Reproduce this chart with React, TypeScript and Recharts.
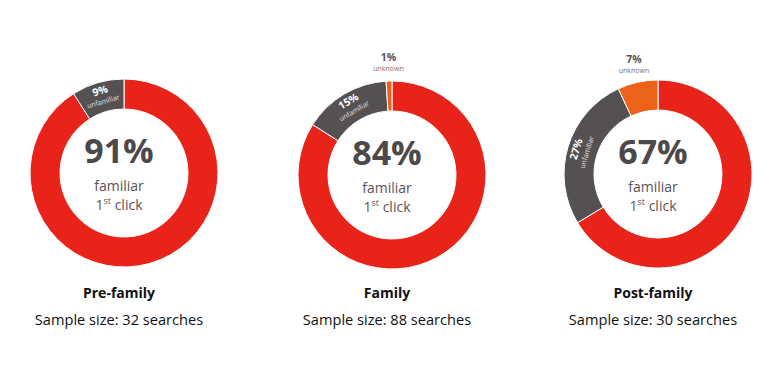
import React from 'react';
import { PieChart, Pie, Cell } from 'recharts';

const groups = ['Pre-family', 'Family', 'Post-family'];
const sampleSizes = [32, 88, 30];
const familiar = [91, 84, 67];
const unfamiliar = [9, 15, 27];
const unknown = [0, 1, 7];
const sliceNames = ['familiar', 'unfamiliar', 'unknown'];

const COLORS: Record<string, string> = {
  familiar: '#e8231a',
  unfamiliar: '#555051',
  unknown: '#ec6218',
};

const centersX = [119, 387, 653];
const centersY = [168, 170, 169];
const INNER = 64;
const OUTER = 94;
const RADIAN = Math.PI / 180;
const FONT = '"Open Sans", sans-serif';

function buildData(i: number) {
  const vals = [familiar[i], unfamiliar[i], unknown[i]];
  return sliceNames
    .map((name, k) => ({ name, value: vals[k] }))
    .filter((d) => d.value > 0);
}

function renderLabel(props: any) {
  const { cx, cy, midAngle, innerRadius, outerRadius, payload, value } = props;
  const name = payload?.name ?? props.name;
  if (name === 'unfamiliar') {
    const r = (innerRadius + outerRadius) / 2;
    const x = cx + r * Math.cos(-midAngle * RADIAN);
    const y = cy + r * Math.sin(-midAngle * RADIAN);
    const rot = 90 - midAngle;
    return (
      <g transform={`translate(${x},${y}) rotate(${rot})`}>
        <text x={0} y={-3} textAnchor="middle" fill="#ffffff" fontSize={10.5} fontWeight={700} fontFamily={FONT}>
          {`${value}%`}
        </text>
        <text x={0} y={7} textAnchor="middle" fill="#e6e2e2" fontSize={7} fontFamily={FONT}>
          unfamiliar
        </text>
      </g>
    );
  }
  if (name === 'unknown') {
    const r = outerRadius + 17;
    const x = cx + r * Math.cos(-midAngle * RADIAN);
    const y = cy + r * Math.sin(-midAngle * RADIAN);
    return (
      <g>
        <text x={x} y={y - 3} textAnchor="middle" fill="#5a5254" fontSize={10.5} fontWeight={700} fontFamily={FONT}>
          {`${value}%`}
        </text>
        <text x={x} y={y + 7} textAnchor="middle" fill="#7a7274" fontSize={7} fontFamily={FONT}>
          unknown
        </text>
      </g>
    );
  }
  return <g />;
}

export default function App() {
  return (
    <div style={{ position: 'absolute', left: 0, top: 0, width: 775, height: 369, background: '#fff' }}>
      <PieChart width={775} height={369}>
        {groups.map((g, i) => (
          <Pie
            key={g}
            data={buildData(i)}
            dataKey="value"
            nameKey="name"
            cx={centersX[i]}
            cy={centersY[i]}
            innerRadius={INNER}
            outerRadius={OUTER}
            startAngle={90}
            endAngle={-270}
            stroke="#ffffff"
            strokeWidth={1}
            label={renderLabel}
            labelLine={false}
            isAnimationActive={false}
          >
            {buildData(i).map((d) => (
              <Cell key={d.name} fill={COLORS[d.name]} />
            ))}
          </Pie>
        ))}
      </PieChart>
      {groups.map((g, i) => (
        <React.Fragment key={g}>
          <div
            style={{
              position: 'absolute',
              left: centersX[i] - 60,
              top: centersY[i] - 38,
              width: 120,
              textAlign: 'center',
              fontFamily: FONT,
              color: '#4d4849',
            }}
          >
            <div style={{ fontSize: 34, fontWeight: 700, lineHeight: '40px' }}>{`${familiar[i]}%`}</div>
            <div style={{ fontSize: 14, lineHeight: '19px', color: '#5a5355', marginTop: 6 }}>familiar</div>
            <div style={{ fontSize: 14, lineHeight: '19px', color: '#5a5355' }}>
              1<sup style={{ fontSize: 9, verticalAlign: 'top', lineHeight: '12px' }}>st</sup> click
            </div>
          </div>
          <div
            style={{
              position: 'absolute',
              left: centersX[i] - 110,
              top: 283,
              width: 220,
              textAlign: 'center',
              fontFamily: FONT,
              color: '#111',
            }}
          >
            <div style={{ fontSize: 14, fontWeight: 700, lineHeight: '20px' }}>{g}</div>
            <div style={{ fontSize: 14.6, lineHeight: '20px', marginTop: 6 }}>{`Sample size: ${sampleSizes[i]} searches`}</div>
          </div>
        </React.Fragment>
      ))}
    </div>
  );
}
